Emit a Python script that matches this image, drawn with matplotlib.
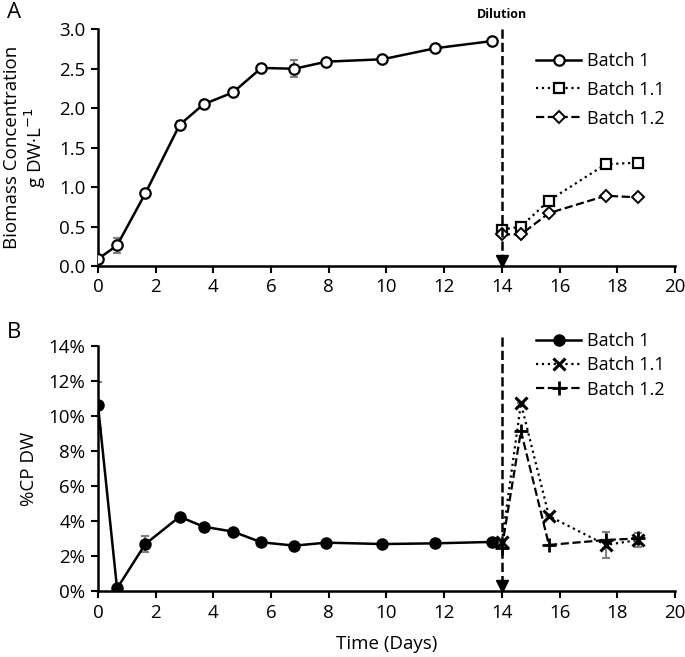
import matplotlib
matplotlib.use("Agg")
import matplotlib.pyplot as plt
from matplotlib.ticker import FuncFormatter

plt.rcParams['font.family'] = ['Open Sans', 'DejaVu Sans']

# ---- Data: panel A (biomass, g DW/L) ----
b1_days = [0, 0.66, 1.64, 2.83, 3.66, 4.68, 5.66, 6.81, 7.92, 9.86, 11.69, 13.64]
b1_biomass = [0.09, 0.26, 0.92, 1.79, 2.05, 2.20, 2.51, 2.50, 2.59, 2.62, 2.76, 2.85]
b1_biomass_err = [0.0, 0.10, 0.03, 0.05, 0.0, 0.0, 0.0, 0.11, 0.0, 0.0, 0.04, 0.0]

b11_days = [14.0, 14.66, 15.63, 17.6, 18.73]
b11_biomass = [0.46, 0.50, 0.83, 1.29, 1.31]
b12_days = [14.0, 14.66, 15.63, 17.6, 18.73]
b12_biomass = [0.40, 0.40, 0.67, 0.89, 0.87]

# ---- Data: panel B (%CP DW) ----
b1_cp = [10.6, 0.15, 2.68, 4.24, 3.67, 3.39, 2.78, 2.59, 2.76, 2.68, 2.72, 2.80]
b1_cp_err = [1.3, 0.0, 0.45, 0.0, 0.0, 0.0, 0.0, 0.0, 0.0, 0.0, 0.0, 0.0]
b11_cp = [2.81, 10.71, 4.28, 2.63, 2.91]
b11_cp_err = [0.0, 0.0, 0.0, 0.76, 0.4]
b12_cp = [2.47, 9.13, 2.63, 2.91, 3.0]
b12_cp_err = [0.0, 0.0, 0.0, 0.45, 0.3]

dilution_day = 14.0
x_ticks = list(range(0, 21, 2))

W, H = 685, 657
fig = plt.figure(figsize=(W / 100, H / 100), dpi=100)
axA = fig.add_axes([98 / W, 1 - 266 / H, (675 - 98) / W, (266 - 29.3) / H])
axB = fig.add_axes([98 / W, 1 - 591 / H, (675 - 98) / W, (591 - 345.7) / H])

ERR_C = '#7f7f7f'
TICK_FS = 13.5
LEG_FS = 13

def style(ax):
    for s in ['top', 'right']:
        ax.spines[s].set_visible(False)
    for s in ['left', 'bottom']:
        ax.spines[s].set_linewidth(1.8)
    ax.tick_params(direction='out', length=5, width=1.5, labelsize=TICK_FS, colors='black', pad=4)
    ax.set_xlim(0, 20)
    ax.set_xticks(x_ticks)

# ---- Panel A ----
style(axA)
axA.errorbar(b1_days, b1_biomass, yerr=b1_biomass_err, fmt='none', ecolor=ERR_C,
             elinewidth=1.5, capsize=3, capthick=1.5, zorder=2)
axA.plot(b1_days, b1_biomass, '-', color='k', lw=1.8, marker='o', ms=7.5,
         mfc='white', mec='k', mew=1.6, label='Batch 1', zorder=3)
axA.plot(b11_days, b11_biomass, ':', color='k', lw=1.6, marker='s', ms=7,
         mfc='white', mec='k', mew=1.6, label='Batch 1.1', zorder=3)
axA.plot(b12_days, b12_biomass, '--', color='k', lw=1.6, marker='D', ms=6,
         mfc='white', mec='k', mew=1.4, label='Batch 1.2', zorder=3)
axA.set_ylim(0, 3.0)
axA.set_yticks([0, 0.5, 1.0, 1.5, 2.0, 2.5, 3.0])
axA.yaxis.set_major_formatter(FuncFormatter(lambda v, p: f'{v:.1f}'))
axA.plot([dilution_day, dilution_day], [3.0, 0.06], '--', color='k', lw=1.8, zorder=4)
axA.plot([dilution_day], [0.06], marker='v', color='k', ms=8, clip_on=False, zorder=4)
axA.text(dilution_day, 3.1, 'Dilution', ha='center', va='bottom', fontsize=9, fontweight='bold')
axA.set_ylabel('Biomass Concentration\ng DW·L$^{-1}$', fontsize=TICK_FS, labelpad=8, linespacing=1.1)
axA.legend(loc='upper right', bbox_to_anchor=(1.0, 0.95), frameon=False, fontsize=LEG_FS,
           handlelength=2.5, handletextpad=0.3, labelspacing=0.6, borderaxespad=0.2)
fig.text(7 / W, 1 - 12 / H, 'A', fontsize=16, va='center', ha='left')

# ---- Panel B ----
style(axB)
axB.errorbar(b1_days, b1_cp, yerr=b1_cp_err, fmt='none', ecolor=ERR_C,
             elinewidth=1.5, capsize=3, capthick=1.5, zorder=2)
axB.errorbar(b11_days, b11_cp, yerr=b11_cp_err, fmt='none', ecolor=ERR_C,
             elinewidth=1.5, capsize=3, capthick=1.5, zorder=2)
axB.errorbar(b12_days, b12_cp, yerr=b12_cp_err, fmt='none', ecolor=ERR_C,
             elinewidth=1.5, capsize=3, capthick=1.5, zorder=2)
axB.plot(b1_days, b1_cp, '-', color='k', lw=1.8, marker='o', ms=8,
         mfc='k', mec='k', label='Batch 1', zorder=3)
axB.plot(b11_days, b11_cp, ':', color='k', lw=1.6, marker='x', ms=8, mew=2.2,
         label='Batch 1.1', zorder=3)
axB.plot(b12_days, b12_cp, '--', color='k', lw=1.6, marker='+', ms=10, mew=2,
         label='Batch 1.2', zorder=3)
axB.set_ylim(0, 14)
axB.set_yticks(range(0, 15, 2))
axB.yaxis.set_major_formatter(FuncFormatter(lambda v, p: f'{v:.0f}%'))
axB.plot([dilution_day, dilution_day], [14.5, 0.3], '--', color='k', lw=1.8, zorder=4, clip_on=False)
axB.plot([dilution_day], [0.3], marker='v', color='k', ms=8, clip_on=False, zorder=4)
axB.set_ylabel('%CP DW', fontsize=TICK_FS, labelpad=8)
axB.set_xlabel('Time (Days)', fontsize=TICK_FS, labelpad=10)
axB.legend(loc='upper right', bbox_to_anchor=(1.0, 1.1), frameon=False, fontsize=LEG_FS,
           handlelength=2.5, handletextpad=0.3, labelspacing=0.35, borderaxespad=0.2)
fig.text(7 / W, 1 - 332 / H, 'B', fontsize=16, va='center', ha='left')

fig.savefig('out.png', dpi=100)
